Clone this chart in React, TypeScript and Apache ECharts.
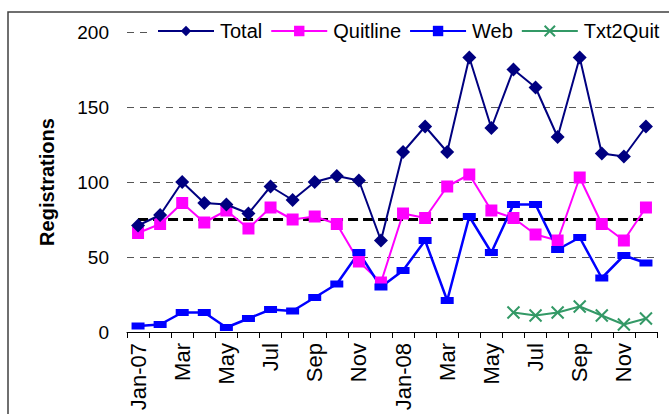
import React, { useEffect, useRef } from "react";
import * as echarts from "echarts";

const months = [
  "Jan-07", "Feb", "Mar", "Apr", "May", "Jun", "Jul", "Aug", "Sep", "Oct", "Nov", "Dec",
  "Jan-08", "Feb", "Mar", "Apr", "May", "Jun", "Jul", "Aug", "Sep", "Oct", "Nov", "Dec",
];
const total = [71, 78, 100, 86, 85, 79, 97, 88, 100, 104, 101, 61, 120, 137, 120, 183, 136, 175, 163, 130, 183, 119, 117, 137];
const quitline = [66, 72, 86, 73, 81, 69, 83, 75, 77, 72, 47, 33, 79, 76, 97, 105, 81, 76, 65, 61, 103, 72, 61, 83];
const web = [4, 5, 13, 13, 3, 9, 15, 14, 23, 32, 53, 30, 41, 61, 21, 77, 53, 85, 85, 55, 63, 36, 51, 46];
const txt2quit = [null, null, null, null, null, null, null, null, null, null, null, null, null, null, null, null, null, 13, 11, 13, 17, 11, 5, 9];
const targetLevel = 75;
const yTicks = { min: 0, max: 200, interval: 50 };

const FONT = "'Liberation Sans', Arial, sans-serif";

export default function App() {
  const ref = useRef<HTMLDivElement>(null);
  useEffect(() => {
    if (!ref.current) return;
    const chart = echarts.init(ref.current, undefined, { renderer: "svg" });
    chart.setOption({
      animation: false,
      backgroundColor: "#ffffff",
      textStyle: { fontFamily: FONT },
      graphic: [
        {
          type: "rect",
          shape: { x: 8, y: 12, width: 720, height: 460 },
          style: { fill: "none", stroke: "#404040", lineWidth: 1.5 },
          silent: true,
          z: 0,
        },
      ],
      legend: {
        left: 152,
        top: 18,
        width: 560,
        padding: [3, 0, 3, 5],
        backgroundColor: "#ffffff",
        itemWidth: 56,
        itemHeight: 13,
        itemGap: 8,
        textStyle: { fontSize: 20, color: "#000", fontFamily: FONT, padding: [0, 0, 0, 1] },
        data: ["Total", "Quitline", "Web", "Txt2Quit"],
      },
      grid: { left: 127, right: 12, top: 32, bottom: 82, containLabel: false },
      xAxis: {
        type: "category",
        data: months,
        boundaryGap: true,
        axisLine: { show: true, lineStyle: { color: "#000", width: 1 } },
        axisTick: { show: true, interval: 0, length: 6, lineStyle: { color: "#000" } },
        axisLabel: {
          interval: 1,
          rotate: 90,
          fontSize: 22,
          color: "#000",
          margin: 11,
          fontFamily: FONT,
        },
      },
      yAxis: {
        type: "value",
        min: yTicks.min,
        max: yTicks.max,
        interval: yTicks.interval,
        name: "Registrations",
        nameLocation: "middle",
        nameRotate: 90,
        nameGap: 70,
        nameTextStyle: { fontSize: 20, fontWeight: "bold", color: "#000", fontFamily: FONT },
        axisLine: { show: false },
        axisTick: { show: false },
        axisLabel: { fontSize: 19, color: "#000", margin: 18, fontFamily: FONT },
        splitLine: { show: true, lineStyle: { color: "#555", type: [7, 6], width: 1 } },
      },
      series: [
        {
          name: "Total",
          type: "line",
          data: total,
          symbol: "diamond",
          symbolSize: 14,
          lineStyle: { color: "#000080", width: 2 },
          itemStyle: { color: "#000080" },
          z: 5,
          markLine: {
            silent: true,
            symbol: "none",
            label: { show: false },
            lineStyle: { color: "#000", width: 3, type: [10, 5] },
            data: [[{ coord: [0, targetLevel] }, { coord: [months.length - 1, targetLevel] }]],
            z: 3,
          },
        },
        {
          name: "Quitline",
          type: "line",
          data: quitline,
          symbol: "rect",
          symbolSize: 12,
          lineStyle: { color: "#FF00FF", width: 2 },
          itemStyle: { color: "#FF00FF" },
          z: 4,
        },
        {
          name: "Web",
          type: "line",
          data: web,
          symbol: "rect",
          symbolSize: [13, 7],
          lineStyle: { color: "#0000FF", width: 2.5 },
          itemStyle: { color: "#0000FF" },
          z: 4,
        },
        {
          name: "Txt2Quit",
          type: "line",
          data: txt2quit,
          symbol: "path://M0,0L10,10M10,0L0,10",
          symbolSize: 12,
          lineStyle: { color: "#339966", width: 2 },
          itemStyle: { color: "#339966", borderColor: "#339966", borderWidth: 2 },
          z: 4,
        },
      ],
    });
    return () => chart.dispose();
  }, []);
  return (
    <div
      ref={ref}
      style={{ position: "fixed", left: 0, top: 0, width: 669, height: 414 }}
    />
  );
}
